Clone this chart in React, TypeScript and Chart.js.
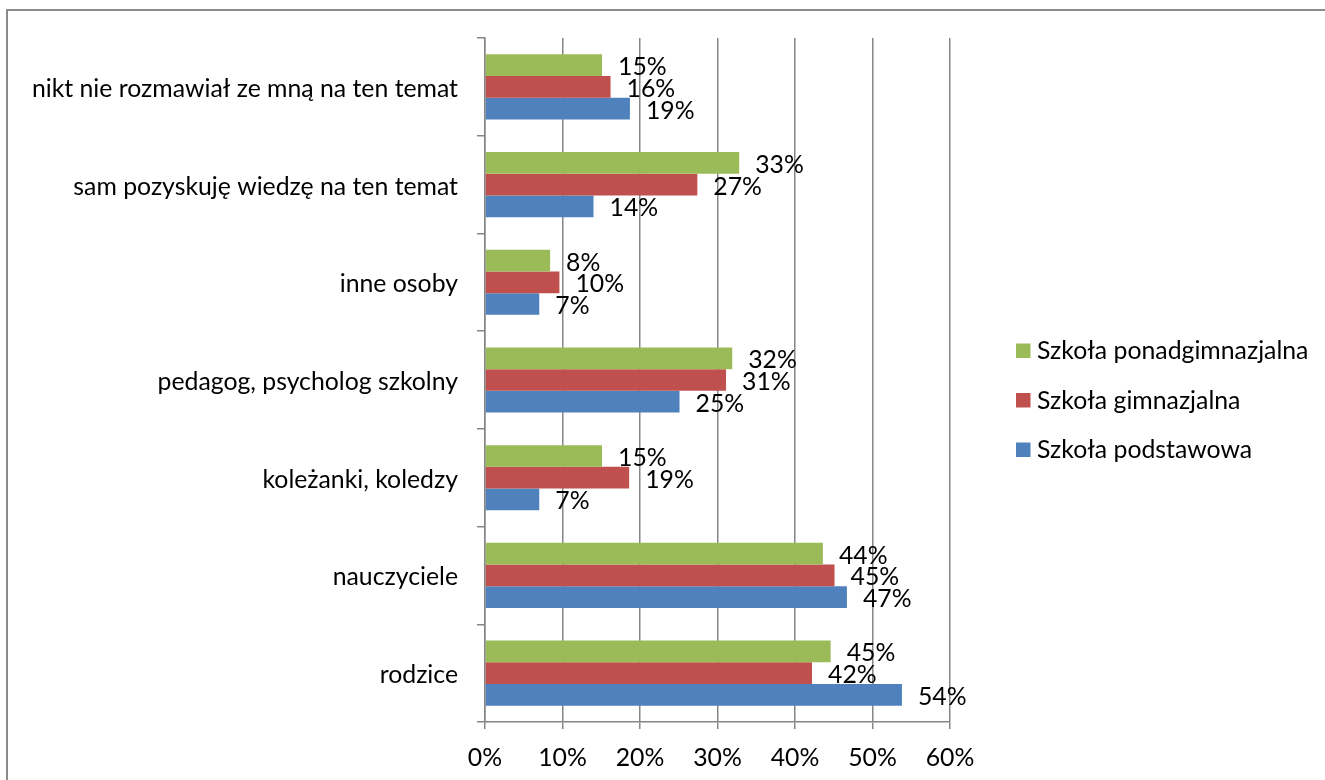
import React, { useEffect, useRef } from "react";
import { Chart, registerables } from "chart.js";

Chart.register(...registerables);

const categories = [
  "nikt nie rozmawiał ze mną na ten temat",
  "sam pozyskuję wiedzę na ten temat",
  "inne osoby",
  "pedagog, psycholog szkolny",
  "koleżanki, koledzy",
  "nauczyciele",
  "rodzice",
];
const seriesNames = ["Szkoła ponadgimnazjalna", "Szkoła gimnazjalna", "Szkoła podstawowa"];
const ponadgimnazjalna = [15.1, 32.8, 8.4, 31.9, 15.1, 43.6, 44.6];
const gimnazjalna = [16.2, 27.4, 9.6, 31.1, 18.6, 45.1, 42.2];
const podstawowa = [18.7, 14.0, 7.0, 25.1, 7.0, 46.7, 53.8];
const seriesColors = ["#9BBB59", "#C0504D", "#4F81BD"];
const xMin = 0;
const xMax = 60;
const xStep = 10;

const FONT = "Lato";
const FONT_SIZE = 24.8;
const GRID = "#868686";

const dataLabelPlugin = {
  id: "dataLabels",
  afterDatasetsDraw(chart: any) {
    const ctx = chart.ctx;
    ctx.save();
    ctx.font = `${FONT_SIZE}px ${FONT}`;
    ctx.fillStyle = "#000";
    ctx.textAlign = "left";
    ctx.textBaseline = "middle";
    chart.data.datasets.forEach((ds: any, i: number) => {
      const meta = chart.getDatasetMeta(i);
      meta.data.forEach((el: any, j: number) => {
        const v = ds.data[j];
        ctx.fillText(Math.round(v) + "%", el.x + 16, el.y + 2);
      });
    });
    ctx.restore();
  },
};

const legendPlugin = {
  id: "sideLegend",
  afterDraw(chart: any) {
    const ctx = chart.ctx;
    const area = chart.chartArea;
    const cx = area.right + 66;
    const cy = (area.top + area.bottom) / 2 + 20;
    ctx.save();
    ctx.font = `${FONT_SIZE}px ${FONT}`;
    ctx.textAlign = "left";
    ctx.textBaseline = "middle";
    chart.data.datasets.forEach((ds: any, i: number) => {
      const y = cy + (i - 1) * 49.5;
      ctx.fillStyle = ds.backgroundColor;
      ctx.fillRect(cx, y - 7, 14.5, 14.5);
      ctx.fillStyle = "#000";
      ctx.fillText(ds.label, cx + 21, y + 1);
    });
    ctx.restore();
  },
};

export default function App() {
  const ref = useRef<HTMLCanvasElement | null>(null);

  useEffect(() => {
    if (!ref.current) return;
    const chart = new Chart(ref.current, {
      type: "bar",
      data: {
        labels: categories,
        datasets: [
          { label: seriesNames[0], data: ponadgimnazjalna, backgroundColor: seriesColors[0] },
          { label: seriesNames[1], data: gimnazjalna, backgroundColor: seriesColors[1] },
          { label: seriesNames[2], data: podstawowa, backgroundColor: seriesColors[2] },
        ],
      },
      options: {
        indexAxis: "y",
        responsive: false,
        animation: false,
        devicePixelRatio: 1,
        datasets: {
          bar: { categoryPercentage: 0.667, barPercentage: 1.0 },
        },
        layout: { padding: { top: 38, left: 0, right: 375, bottom: 0 } },
        plugins: {
          legend: { display: false },
          tooltip: { enabled: false },
        },
        scales: {
          x: {
            type: "linear",
            position: "bottom",
            min: xMin,
            max: xMax,
            ticks: {
              stepSize: xStep,
              callback: (v: any) => v + "%",
              font: { family: FONT, size: FONT_SIZE },
              color: "#000",
              padding: 14,
            },
            grid: { color: GRID, lineWidth: 1.5, tickLength: 7, drawTicks: true },
            border: { color: GRID, width: 1.5 },
            afterFit: (s: any) => {
              s.height = 58;
            },
          },
          y: {
            type: "category",
            position: "left",
            ticks: {
              font: { family: FONT, size: FONT_SIZE },
              color: "#000",
              padding: 19,
              labelOffset: 2,
            },
            grid: {
              display: true,
              drawOnChartArea: false,
              offset: true,
              tickLength: 8,
              color: GRID,
              lineWidth: 1.5,
            },
            border: { color: GRID, width: 1.5 },
            afterFit: (s: any) => {
              s.width = 485;
            },
          },
        },
      },
      plugins: [dataLabelPlugin, legendPlugin],
    } as any);
    return () => chart.destroy();
  }, []);

  return (
    <div
      style={{
        position: "absolute",
        left: 0,
        top: 0,
        width: 1325,
        height: 780,
        overflow: "hidden",
        background: "#fff",
      }}
    >
      <div
        style={{
          position: "absolute",
          left: 6,
          top: 9,
          width: 1400,
          height: 900,
          border: "2px solid #8b8b8b",
          boxSizing: "border-box",
        }}
      />
      <canvas
        ref={ref}
        width={1325}
        height={780}
        style={{ position: "absolute", left: 0, top: 0, width: 1325, height: 780 }}
      />
    </div>
  );
}
